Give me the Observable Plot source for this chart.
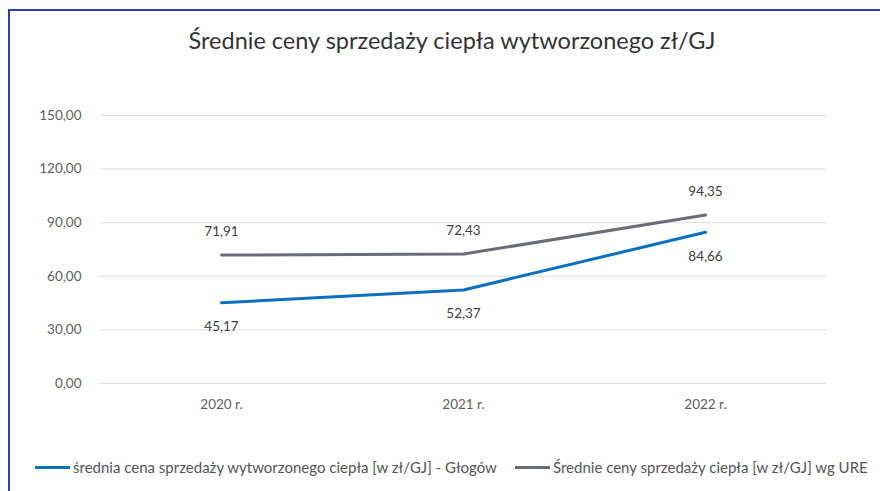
<!DOCTYPE html>
<html><head><meta charset="utf-8">
<script src="https://cdn.jsdelivr.net/npm/d3@7"></script>
<script src="https://cdn.jsdelivr.net/npm/@observablehq/plot@0.6"></script>
<style>
body{margin:0;background:#fff;width:880px;height:491px;overflow:hidden;position:relative;}
#frame{position:absolute;left:8px;top:9px;width:872px;height:482px;border-top:2px solid #2a3cb8;border-left:2px solid #2a3cb8;box-sizing:border-box;}
#title{position:absolute;left:0;width:904px;top:26px;text-align:center;font-family:Lato,sans-serif;font-size:23.5px;color:#333;}
#chart{position:absolute;left:0;top:90px;}
#legend{position:absolute;top:458px;left:0;width:880px;height:20px;font-family:Lato,sans-serif;font-size:15px;color:#555;white-space:nowrap;}
#legend .sw{display:inline-block;width:35px;height:3px;margin-right:3px;}
#legend .it{position:absolute;top:0;display:flex;align-items:center;}
</style></head><body>
<div id="frame"></div>
<div id="title">Średnie ceny sprzedaży ciepła wytworzonego zł/GJ</div>
<div id="chart"></div>
<div id="legend"></div>
<script>
const years = ["2020 r.", "2021 r.", "2022 r."];
const glogow = [45.17, 52.37, 84.66];
const ure = [71.91, 72.43, 94.35];
const yTicks = [0, 30, 60, 90, 120, 150];
const seriesNames = [
  "średnia cena sprzedaży wytworzonego ciepła [w zł/GJ] - Głogów",
  "Średnie ceny sprzedaży ciepła [w zł/GJ] wg URE"
];
const colors = ["#0a70c0", "#6c6c76"];

const fmt = d => d.toFixed(2).replace(".", ",");
const dataG = years.map((y, i) => ({year: y, value: glogow[i]}));
const dataU = years.map((y, i) => ({year: y, value: ure[i]}));

const chart = Plot.plot({
  width: 880,
  height: 330,
  marginLeft: 100,
  marginRight: 54,
  marginTop: 25,
  marginBottom: 37,
  style: {fontFamily: "Lato, sans-serif", fontSize: "13.5px", color: "#595959", background: "transparent"},
  x: {type: "point", domain: years, padding: 0.5, axis: null, label: null},
  y: {domain: [0, 150], axis: null, label: null},
  marks: [
    Plot.ruleY(yTicks, {stroke: "#dcdcdc", strokeWidth: 1}),
    Plot.axisY(yTicks, {tickSize: 0, tickPadding: 19, tickFormat: fmt, fill: "#606060", fontSize: 13.5, label: null}),
    Plot.axisX(years, {tickSize: 0, tickPadding: 16, fill: "#606060", fontSize: 13.5, label: null}),
    Plot.line(dataU, {x: "year", y: "value", stroke: colors[1], strokeWidth: 3}),
    Plot.line(dataG, {x: "year", y: "value", stroke: colors[0], strokeWidth: 3}),
    Plot.text(dataU, {x: "year", y: "value", text: d => fmt(d.value), dy: -23, fill: "#404040", fontSize: 13.5}),
    Plot.text(dataG, {x: "year", y: "value", text: d => fmt(d.value), dy: 24, fill: "#404040", fontSize: 13.5})
  ]
});
document.getElementById("chart").appendChild(chart);

const leg = document.getElementById("legend");
const legLeft = [35, 515];
seriesNames.forEach((n, i) => {
  const it = document.createElement("span");
  it.className = "it";
  it.style.left = legLeft[i] + "px";
  const sw = document.createElement("span");
  sw.className = "sw";
  sw.style.background = colors[i];
  it.appendChild(sw);
  it.appendChild(document.createTextNode(n));
  leg.appendChild(it);
});
</script>
</body></html>
